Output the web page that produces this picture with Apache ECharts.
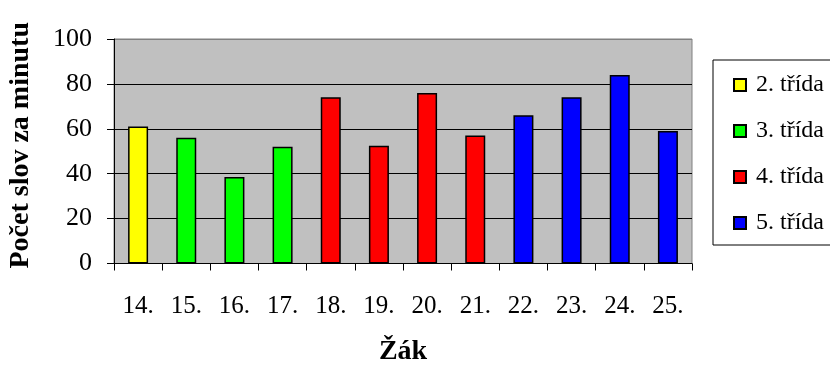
<!DOCTYPE html>
<html>
<head>
<meta charset="utf-8">
<script src="https://cdn.jsdelivr.net/npm/echarts@6/dist/echarts.min.js"></script>
<style>html,body{margin:0;padding:0;background:#fff;}#c{width:830px;height:365px;}</style>
</head>
<body>
<div id="c"></div>
<script>
const categories = ['14.', '15.', '16.', '17.', '18.', '19.', '20.', '21.', '22.', '23.', '24.', '25.'];
const seriesNames = ['2. třída', '3. třída', '4. třída', '5. třída'];
const trida2 = [61, '-', '-', '-', '-', '-', '-', '-', '-', '-', '-', '-'];
const trida3 = ['-', 56, 38.5, 52, '-', '-', '-', '-', '-', '-', '-', '-'];
const trida4 = ['-', '-', '-', '-', 74, 52.5, 76, 57, '-', '-', '-', '-'];
const trida5 = ['-', '-', '-', '-', '-', '-', '-', '-', 66, 74, 84, 59];
const yTicks = [0, 20, 40, 60, 80, 100];
const colors = ['#ffff00', '#00ff00', '#ff0000', '#0000ff'];

const FONT = 'Liberation Serif';
const chart = echarts.init(document.getElementById('c'), null, {renderer: 'canvas'});
const dataSets = [trida2, trida3, trida4, trida5];

chart.setOption({
  animation: false,
  backgroundColor: '#ffffff',
  grid: {
    left: 114, top: 39, right: 138, bottom: 101.5,
    outerBoundsMode: 'none',
    containLabel: false,
    show: true, backgroundColor: '#c0c0c0', borderColor: '#808080', borderWidth: 1
  },
  legend: {
    orient: 'vertical',
    left: 713, top: 60,
    padding: [13, 24, 10, 20],
    borderColor: '#000', borderWidth: 1,
    backgroundColor: '#fff',
    itemWidth: 12, itemHeight: 12,
    itemGap: 22,
    icon: 'rect',
    data: seriesNames,
    textStyle: {fontFamily: FONT, fontSize: 24, color: '#000', lineHeight: 24, padding: [0, 0, 0, 5]}
  },
  xAxis: {
    type: 'category',
    data: categories,
    name: 'Žák',
    nameLocation: 'middle',
    nameGap: 74,
    nameTextStyle: {fontFamily: FONT, fontSize: 28, fontWeight: 'bold', color: '#000'},
    axisLine: {show: true, lineStyle: {color: '#000', width: 1}},
    axisTick: {show: true, alignWithLabel: false, length: 7, lineStyle: {color: '#000'}},
    axisLabel: {fontFamily: FONT, fontSize: 25, color: '#000', margin: 30},
    splitLine: {show: false}
  },
  yAxis: {
    type: 'value',
    min: yTicks[0], max: yTicks[yTicks.length - 1], interval: 20,
    name: 'Počet slov za minutu',
    nameLocation: 'middle',
    nameGap: 79,
    nameTextStyle: {fontFamily: FONT, fontSize: 28, fontWeight: 'bold', color: '#000', padding: [0, 0, 0, 12]},
    axisLine: {show: true, lineStyle: {color: '#000', width: 1}},
    axisTick: {show: true, length: 7, lineStyle: {color: '#000'}},
    axisLabel: {fontFamily: FONT, fontSize: 26, color: '#000', margin: 22},
    splitLine: {show: true, lineStyle: {color: ['#000', '#000', '#000', '#000', '#000', '#808080'], width: 1}}
  },
  series: dataSets.map((d, i) => ({
    name: seriesNames[i],
    type: 'bar',
    stack: 'all',
    data: d,
    barWidth: 20,
    itemStyle: {color: colors[i], borderColor: '#000', borderWidth: 1.5}
  }))
});
</script>
</body>
</html>
